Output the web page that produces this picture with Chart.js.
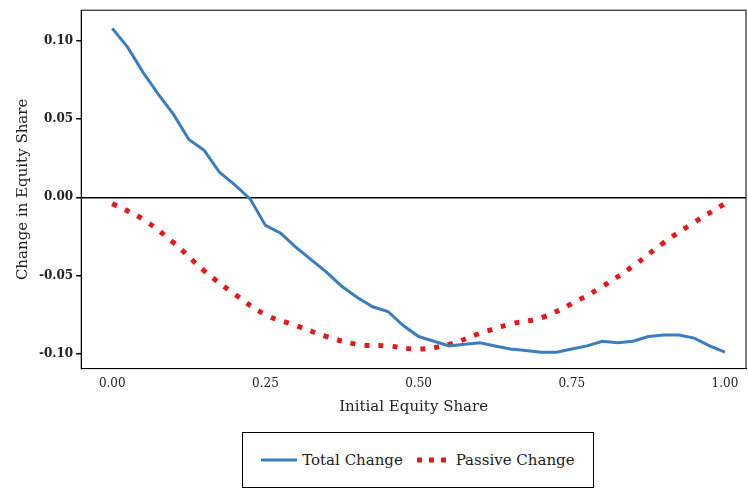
<!DOCTYPE html>
<html><head><meta charset="utf-8">
<script src="https://cdn.jsdelivr.net/npm/chart.js@4"></script>
<style>
body{margin:0;background:#fff;font-family:"DejaVu Serif",serif;}
#wrap{position:relative;width:748px;height:420px;}
#legend{position:absolute;left:242px;top:432px;width:352px;height:56px;border:1px solid #000;box-sizing:border-box;display:flex;align-items:center;justify-content:center;font-size:15px;color:#222;}
#legend span{display:inline-flex;align-items:center;margin:0 6px;}
</style></head><body>
<div id="wrap"><canvas id="c" width="748" height="420"></canvas></div>
<div id="legend">
<span><svg width="36" height="10"><line x1="0" y1="5" x2="36" y2="5" stroke="#3a7ebf" stroke-width="3"/></svg>&nbsp;Total Change</span>
<span><svg width="36" height="10"><line x1="2" y1="5" x2="36" y2="5" stroke="#e31a1c" stroke-width="5" stroke-dasharray="5,7"/></svg>&nbsp;Passive Change</span>
</div>
<script>
const totalX = [0,0.025,0.05,0.075,0.1,0.125,0.15,0.175,0.2,0.225,0.25,0.275,0.3,0.325,0.35,0.375,0.4,0.425,0.45,0.475,0.5,0.525,0.55,0.575,0.6,0.625,0.65,0.675,0.7,0.725,0.75,0.775,0.8,0.825,0.85,0.875,0.9,0.925,0.95,0.975,1.0];
const totalY = [0.108,0.096,0.080,0.066,0.053,0.037,0.030,0.016,0.008,-0.001,-0.018,-0.023,-0.032,-0.040,-0.048,-0.057,-0.064,-0.070,-0.073,-0.082,-0.089,-0.092,-0.095,-0.094,-0.093,-0.095,-0.097,-0.098,-0.099,-0.099,-0.097,-0.095,-0.092,-0.093,-0.092,-0.089,-0.088,-0.088,-0.090,-0.095,-0.099];
const passiveX = [0,0.05,0.1,0.15,0.2,0.25,0.3,0.35,0.4,0.45,0.5,0.55,0.6,0.65,0.7,0.75,0.8,0.85,0.9,0.95,1.0];
const passiveY = [-0.004,-0.014,-0.029,-0.047,-0.062,-0.075,-0.082,-0.089,-0.094,-0.095,-0.097,-0.094,-0.087,-0.081,-0.077,-0.068,-0.057,-0.044,-0.029,-0.016,-0.004];
const xTicks = [0,0.25,0.5,0.75,1.0];
const yTicks = [-0.10,-0.05,0,0.05,0.10];

const frame = {
  id: 'frame',
  afterDraw(chart) {
    const {ctx, chartArea: a} = chart;
    ctx.save();
    ctx.strokeStyle = '#000';
    ctx.lineWidth = 1;
    ctx.strokeRect(a.left, a.top, a.right - a.left, a.bottom - a.top);
    ctx.restore();
  }
};

const font = {family: '"DejaVu Serif", serif', size: 12};
new Chart(document.getElementById('c'), {
  type: 'line',
  data: {
    datasets: [
      {data: totalX.map((x, i) => ({x, y: totalY[i]})), borderColor: '#3a7ebf', borderWidth: 3, pointRadius: 0, tension: 0},
      {data: passiveX.map((x, i) => ({x, y: passiveY[i]})), borderColor: '#e31a1c', borderWidth: 5, borderDash: [5, 9], pointRadius: 0, tension: 0.4}
    ]
  },
  options: {
    responsive: false, animation: false,
    layout: {padding: {top: -2, right: 2, left: 10}},
    plugins: {legend: {display: false}, tooltip: {enabled: false}},
    scales: {
      x: {
        type: 'linear', min: -0.0507, max: 1.0344,
        afterBuildTicks: s => { s.ticks = xTicks.map(v => ({value: v})); },
        ticks: {color: '#222', font, callback: v => v.toFixed(2)},
        grid: {display: false, drawTicks: true, tickLength: 5},
        border: {color: '#000'},
        title: {display: true, text: 'Initial Equity Share', color: '#222', font: {family: font.family, size: 15}}
      },
      y: {
        min: -0.1095, max: 0.1196,
        afterBuildTicks: s => { s.ticks = yTicks.map(v => ({value: v})); },
        ticks: {color: '#222', font: {family: font.family, size: 12, weight: 'bold'}, callback: v => v.toFixed(2)},
        grid: {color: c => c.tick && Math.abs(c.tick.value) < 1e-9 ? '#000' : 'rgba(0,0,0,0)', lineWidth: 1.5, tickLength: 5, tickColor: '#000'},
        border: {color: '#000'},
        title: {display: true, text: 'Change in Equity Share', color: '#222', font: {family: font.family, size: 15}}
      }
    }
  },
  plugins: [frame]
});
</script>
</body></html>
